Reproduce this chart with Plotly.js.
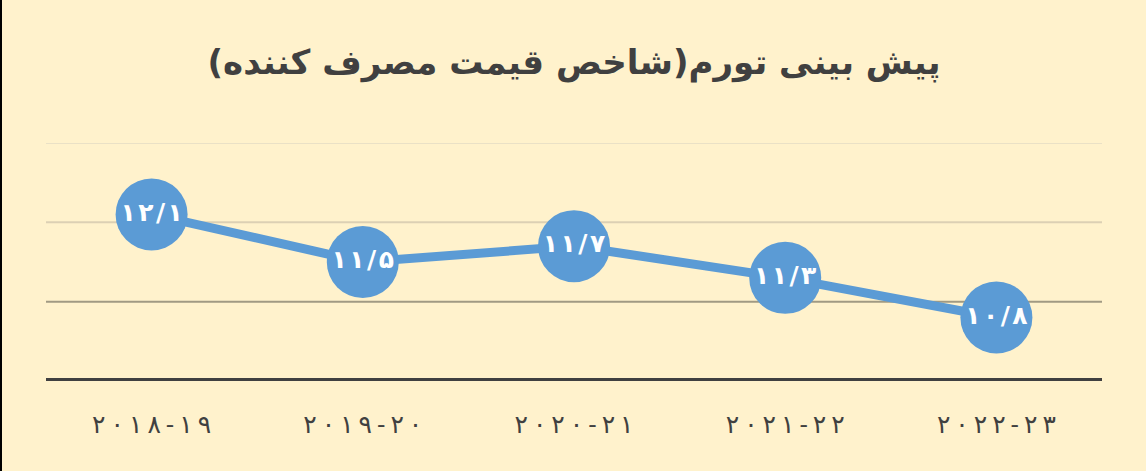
<!DOCTYPE html>
<html>
<head>
<meta charset="utf-8">
<script src="https://cdn.plot.ly/plotly-3.0.1.min.js"></script>
<style>
  html, body { margin: 0; padding: 0; background: #FFF2CC; }
  #chart { width: 1144px; height: 471px; border-left: 2px solid #000; }
</style>
</head>
<body>
<div id="chart"></div>
<script>
// Data
const titleText = "پیش بینی تورم(شاخص قیمت مصرف کننده)";
const categories = ["۲۰۱۸-۱۹", "۲۰۱۹-۲۰", "۲۰۲۰-۲۱", "۲۰۲۱-۲۲", "۲۰۲۲-۲۳"];
const inflation = [12.1, 11.5, 11.7, 11.3, 10.8];
const gridValues = [11, 12, 13];
const gridColors = ["#A19A83", "#DCD0B4", "#EAE1C6"];
const yRange = [10, 13];

// Persian digits for labels (decimal separator shown as "/")
const faDigits = "۰۱۲۳۴۵۶۷۸۹";
function toFa(v) {
  return String(v).replace(/[0-9]/g, d => faDigits[+d]).replace(".", "/");
}
const labels = inflation.map(v => Array.from(toFa(v)).join("\u200A"));
// wide-tracked tick text (thin spaces between characters)
const tickText = categories.map(c => Array.from(c).join("\u2009"));

const shapes = gridValues.map((g, i) => ({
  type: "line", xref: "paper", yref: "y", x0: 0, x1: 1, y0: g, y1: g,
  line: { color: gridColors[i], width: 2 }, layer: "below"
}));
shapes.push({
  type: "line", xref: "paper", yref: "y", x0: 0, x1: 1, y0: yRange[0], y1: yRange[0],
  line: { color: "#404040", width: 6 }, layer: "below"
});

const trace = {
  x: categories,
  y: inflation,
  type: "scatter",
  mode: "lines+markers+text",
  text: labels,
  textposition: "middle center",
  textfont: { family: "DejaVu Sans", size: 25, color: "#FFFFFF", weight: "bold" },
  line: { color: "#5B9BD5", width: 9 },
  marker: { color: "#5B9BD5", size: 72 },
  hoverinfo: "skip",
  cliponaxis: false
};

const layout = {
  width: 1144,
  height: 471,
  paper_bgcolor: "#FFF2CC",
  plot_bgcolor: "rgba(0,0,0,0)",
  margin: { l: 44, r: 44, t: 143, b: 90 },
  title: {
    text: titleText + "\u200F",
    font: { family: "DejaVu Sans", size: 34, color: "#404040", weight: "bold" },
    x: 0.5, xanchor: "center", y: 0.868, yanchor: "middle", xref: "paper"
  },
  xaxis: {
    type: "category",
    range: [-0.5, 4.5],
    tickmode: "array", tickvals: categories, ticktext: tickText,
    showgrid: false, zeroline: false, showline: false,
    ticks: "", ticklabelstandoff: 26,
    tickfont: { family: "DejaVu Serif, DejaVu Sans", size: 25, color: "#404040" },
    fixedrange: true
  },
  yaxis: {
    range: yRange,
    showgrid: false, zeroline: false, showline: false,
    showticklabels: false, ticks: "",
    fixedrange: true
  },
  shapes: shapes,
  showlegend: false
};

Plotly.newPlot("chart", [trace], layout, { displayModeBar: false, staticPlot: true });
</script>
</body>
</html>
